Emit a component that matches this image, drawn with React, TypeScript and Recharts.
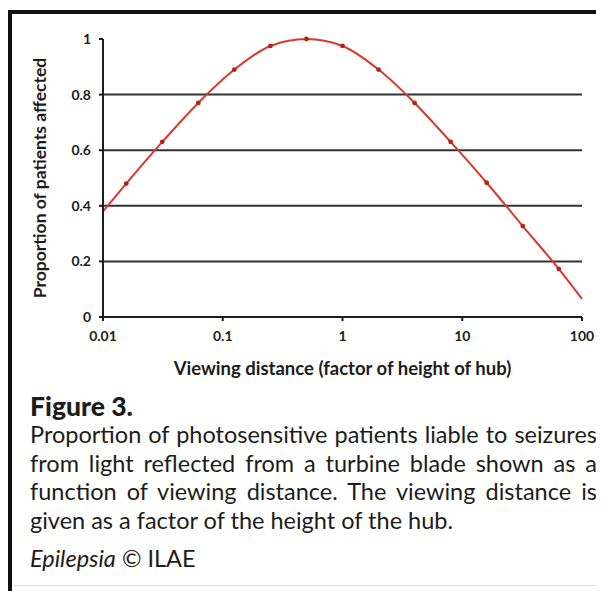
import React from "react"
import { LineChart, Line, XAxis, YAxis, ReferenceLine } from "recharts"

// viewing distance (factor of hub height) and proportion affected
const distances = [0.01, 0.015625, 0.03125, 0.0625, 0.125, 0.25, 0.5, 1, 2, 4, 8, 16, 32, 64, 100]
const proportions = [0.38, 0.48, 0.63, 0.77, 0.89, 0.975, 1.0, 0.975, 0.89, 0.77, 0.63, 0.483, 0.327, 0.173, 0.065]
const marked = [false, true, true, true, true, true, true, true, true, true, true, true, true, true, false]

const xTicks = [0.01, 0.1, 1, 10, 100]
const yTicks = [0, 0.2, 0.4, 0.6, 0.8, 1]
const gridValues = [0.2, 0.4, 0.6, 0.8]

const captionLines = [
  "Proportion of photosensitive patients liable to seizures",
  "from light reflected from a turbine blade shown as a",
  "function of viewing distance. The viewing distance is",
  "given as a factor of the height of the hub.",
]

const data = distances.map((d, i) => ({ d, p: proportions[i], marked: marked[i] }))

const FONT = "Lato, 'Open Sans', sans-serif"
const INK = "#1c1c1c"

const MarkerDot = (props: any) => {
  const { cx, cy, payload, index } = props
  if (!payload || !payload.marked) return <g key={`dot-${index}`} />
  return <circle key={`dot-${index}`} cx={cx} cy={cy} r={2.4} fill="#b3221c" />
}

export default function App() {
  return (
    <div style={{ position: "relative", width: 596, height: 583, fontFamily: FONT, color: INK }}>
      {/* frame */}
      <div style={{ position: "absolute", left: 0, top: 2, width: 4, height: 581, background: "#111" }} />
      <div style={{ position: "absolute", left: 0, top: 2, width: 596, height: 3.5, background: "#111" }} />
      <div style={{ position: "absolute", left: 4, top: 577, width: 592, height: 1, background: "#ddd" }} />

      <div style={{ position: "absolute", left: 0, top: 0 }}>
        <LineChart width={596} height={372} data={data} margin={{ top: 31, right: 22, bottom: 0, left: 0 }}>
          {gridValues.map((v) => (
            <ReferenceLine key={v} y={v} stroke="#333" strokeWidth={2} />
          ))}
          <XAxis
            dataKey="d"
            type="number"
            scale="log"
            domain={[0.01, 100]}
            ticks={xTicks}
            tickFormatter={(v: number) => String(v)}
            height={63}
            tickSize={4}
            tickMargin={10}
            axisLine={{ stroke: INK, strokeWidth: 2 }}
            tickLine={{ stroke: INK, strokeWidth: 2 }}
            tick={{ fill: INK, fontSize: 14, fontWeight: 700, fontFamily: FONT }}
            label={{
              value: "Viewing distance (factor of height of hub)",
              position: "insideBottom",
              offset: 5,
              style: { fill: INK, fontSize: 18.5, fontWeight: 700, fontFamily: FONT },
            }}
          />
          <YAxis
            type="number"
            domain={[0, 1]}
            ticks={yTicks}
            tickFormatter={(v: number) => (v === 0 ? "0" : v === 1 ? "1" : v.toFixed(1))}
            width={95}
            tickSize={4}
            tickMargin={8}
            axisLine={{ stroke: INK, strokeWidth: 2 }}
            tickLine={{ stroke: INK, strokeWidth: 2 }}
            tick={{ fill: INK, fontSize: 14, fontWeight: 700, fontFamily: FONT }}
            label={{
              value: "Proportion of patients affected",
              angle: -90,
              position: "insideLeft",
              offset: 34,
              dx: -2,
              style: { fill: INK, fontSize: 17.5, fontWeight: 700, fontFamily: FONT, textAnchor: "middle" },
            }}
          />
          <Line
            type="monotone"
            dataKey="p"
            stroke="#d9382c"
            strokeWidth={2}
            dot={<MarkerDot />}
            activeDot={false}
            isAnimationActive={false}
          />
        </LineChart>
      </div>

      <div style={{ position: "absolute", left: 22, top: 384, width: 567 }}>
        <div style={{ fontSize: 26.5, fontWeight: 900, lineHeight: "28px" }}>Figure 3.</div>
        {captionLines.map((line, i) => (
          <div
            key={i}
            style={{
              fontSize: 23.5,
              lineHeight: "28.5px",
              whiteSpace: "nowrap",
              textAlign: i < 3 ? "justify" : "left",
              textAlignLast: i < 3 ? "justify" : "left",
            }}
          >
            {line}
          </div>
        ))}
        <div style={{ fontSize: 23.5, lineHeight: "28.5px", marginTop: 10 }}>
          <i>Epilepsia</i> © ILAE
        </div>
      </div>
    </div>
  )
}
